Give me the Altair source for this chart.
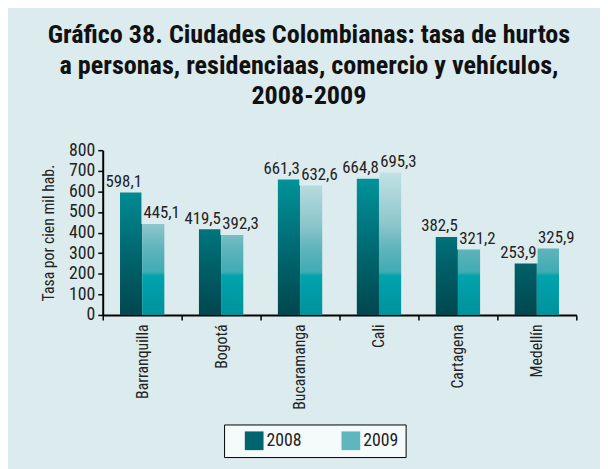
import altair as alt
import pandas as pd

cities = ["Barranquilla", "Bogotá", "Bucaramanga", "Cali", "Cartagena", "Medellín"]
years = ["2008", "2009"]
v2008 = [598.1, 419.5, 661.3, 664.8, 382.5, 253.9]
v2009 = [445.1, 392.3, 632.6, 695.3, 321.2, 325.9]
y_ticks = [0, 100, 200, 300, 400, 500, 600, 700, 800]
y_max = 800

rows = []
for c, a, b in zip(cities, v2008, v2009):
    rows.append({"city": c, "year": "2008", "value": a})
    rows.append({"city": c, "year": "2009", "value": b})
df = pd.DataFrame(rows)

BG = "#DCEBEE"
FONT = "Roboto Condensed, Liberation Sans Narrow, Arial Narrow, Liberation Sans, sans-serif"
TFONT = "Roboto Condensed, Liberation Sans Narrow, Arial Narrow, DejaVu Sans Condensed, sans-serif"

grad08 = {
    "gradient": "linear", "x1": 0, "x2": 0, "y1": 0, "y2": 1,
    "stops": [
        {"offset": 0.0, "color": "#00A3AB"},
        {"offset": 0.17, "color": "#00939B"},
        {"offset": 0.52, "color": "#007179"},
        {"offset": 0.68, "color": "#00626A"},
        {"offset": 1.0, "color": "#00474F"},
    ],
}
grad09 = {
    "gradient": "linear", "x1": 0, "x2": 0, "y1": 0, "y2": 1,
    "stops": [
        {"offset": 0.0, "color": "#D8ECEF"},
        {"offset": 0.13, "color": "#C3E2E5"},
        {"offset": 0.45, "color": "#8CC6CB"},
        {"offset": 0.6, "color": "#5EB4BB"},
        {"offset": 0.74, "color": "#40ABB3"},
        {"offset": 0.76, "color": "#00A4AD"},
        {"offset": 1.0, "color": "#00929B"},
    ],
}

x_enc = alt.X(
    "city:N",
    sort=cities,
    scale=alt.Scale(paddingInner=0, paddingOuter=0),
    axis=alt.Axis(
        title=None, labelAngle=270, tickBand="extent", tickSize=5,
        labelPadding=4, labelFontSize=16, labelFont=FONT, labelColor="#222222",
        domainColor="black", domainWidth=2, tickColor="black", tickWidth=1.5,
    ),
)
xoff_enc = alt.XOffset("year:N", scale=alt.Scale(domain=years, paddingOuter=0.78, paddingInner=0))
y_scale = alt.Scale(domain=[0, y_max], nice=False)
y_axis = alt.Axis(
    values=y_ticks, grid=False, title="Tasa por cien mil hab.", titleFont=FONT,
    titleFontSize=16, titleFontWeight="normal", titleColor="#222222", titlePadding=12,
    labelFont=FONT, labelFontSize=18, labelColor="#222222", tickSize=5, labelPadding=3,
    domainColor="black", domainWidth=2, tickColor="black", tickWidth=1.5,
)

base = alt.Chart(df).transform_calculate(top=str(y_max))

bars08 = base.transform_filter(alt.datum.year == "2008").mark_bar(fill=grad08).encode(
    x=x_enc, xOffset=xoff_enc, y=alt.Y("top:Q", scale=y_scale, axis=y_axis)
)
bars09 = base.transform_filter(alt.datum.year == "2009").mark_bar(fill=grad09).encode(
    x=x_enc, xOffset=xoff_enc, y=alt.Y("top:Q", scale=y_scale, axis=y_axis)
)
mask = base.mark_bar(fill=BG, stroke=BG, strokeWidth=1.5).encode(
    x=x_enc, xOffset=xoff_enc, y=alt.Y("value:Q", scale=y_scale, axis=y_axis), y2="top:Q"
)
legend_layer = base.mark_bar(opacity=0).encode(
    x=x_enc, xOffset=xoff_enc, y=alt.Y("value:Q", scale=y_scale, axis=y_axis),
    color=alt.Color(
        "year:N",
        scale=alt.Scale(domain=years, range=["#00656E", "#5FB7BE"]),
        legend=alt.Legend(
            title=None, orient="none", legendX=123, legendY=278, direction="horizontal",
            fillColor="#F5FAFB", strokeColor="black", padding=7, symbolType="square",
            symbolSize=360, symbolOpacity=1, symbolStrokeWidth=0, labelFont=FONT,
            labelFontSize=18, labelColor="#222222", columnPadding=26, symbolOffset=14,
            labelOffset=3,
        ),
    ),
)
lab = base.transform_calculate(label="replace(format(datum.value, '.1f'), '.', ',')")
labels08 = lab.transform_filter(alt.datum.year == "2008").mark_text(
    baseline="bottom", align="right", dx=11, dy=-1, font=FONT, fontSize=17, color="#222222"
).encode(x=x_enc, xOffset=xoff_enc, y=alt.Y("value:Q", scale=y_scale, axis=y_axis), text="label:N")
labels09 = lab.transform_filter(alt.datum.year == "2009").mark_text(
    baseline="bottom", align="left", dx=-10, dy=-1, font=FONT, fontSize=17, color="#222222"
).encode(x=x_enc, xOffset=xoff_enc, y=alt.Y("value:Q", scale=y_scale, axis=y_axis), text="label:N")

chart = alt.layer(bars08, bars09, mask, legend_layer, labels08, labels09).properties(
    width=480,
    height=167,
    autosize="none",
    padding={"left": 96, "top": 141, "right": 24, "bottom": 153},
    title=alt.Title(
        text=[
            "Gráfico 38. Ciudades Colombianas: tasa de hurtos",
            "a personas, residenciaas, comercio y vehículos,",
            "2008-2009",
        ],
        anchor="middle", frame="group", dx=-31, fontSize=26.5, font=TFONT,
        fontWeight="bold", color="#111111", lineHeight=31, offset=32,
    ),
).configure(background=BG).configure_view(stroke=None)

chart.save("out.html", embed_options={"renderer": "svg", "actions": False})
